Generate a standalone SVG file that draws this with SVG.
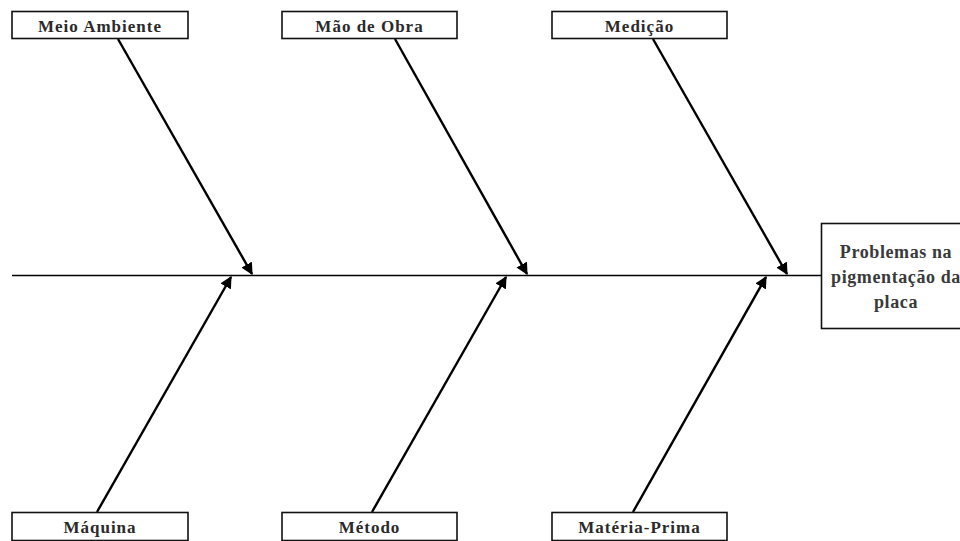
<svg xmlns="http://www.w3.org/2000/svg" width="960" height="541" viewBox="0 0 960 541">
<style>
.box{fill:#fff;stroke:#111;stroke-width:1.6}
.lbl{font-family:"Liberation Serif","Times New Roman",serif;font-weight:bold;font-size:17px;letter-spacing:1px;fill:#2a2a2a;text-anchor:middle}
.eff{font-family:"Liberation Serif","Times New Roman",serif;font-weight:bold;font-size:18px;letter-spacing:0.6px;fill:#3a3a3a;text-anchor:middle}
.bone{stroke:#000;stroke-width:2.4;fill:none;marker-end:url(#ah)}
.spine{stroke:#000;stroke-width:1.6;fill:none}
</style>
<defs>
<marker id="ah" viewBox="0 0 10 10" refX="9" refY="5" markerWidth="5" markerHeight="5" orient="auto" markerUnits="strokeWidth">
<path d="M0,0 L10,5 L0,10 z" fill="#000"/>
</marker>
</defs>
<rect width="960" height="541" fill="#fff"/>
<g id="connectors">
<line class="spine" x1="12" y1="275.5" x2="822" y2="275.5"/>
<line class="bone" x1="118" y1="39" x2="252" y2="274"/>
<line class="bone" x1="395" y1="39" x2="527" y2="274"/>
<line class="bone" x1="653" y1="39" x2="787" y2="274"/>
<line class="bone" x1="97" y1="512" x2="231" y2="277"/>
<line class="bone" x1="372" y1="512" x2="506" y2="277"/>
<line class="bone" x1="633" y1="512" x2="766" y2="277"/>
</g>
<g id="meio-ambiente"><rect class="box" x="12" y="11.5" width="176" height="27"/><text class="lbl" x="100" y="31.5">Meio Ambiente</text></g>
<g id="mao-de-obra"><rect class="box" x="282" y="11.5" width="175" height="27"/><text class="lbl" x="369.5" y="31.5">Mão de Obra</text></g>
<g id="medicao"><rect class="box" x="552" y="11.5" width="175" height="27"/><text class="lbl" x="639.5" y="31.5">Medição</text></g>
<g id="maquina"><rect class="box" x="12" y="512.5" width="176" height="28"/><text class="lbl" x="100" y="533">Máquina</text></g>
<g id="metodo"><rect class="box" x="282" y="512.5" width="175" height="28"/><text class="lbl" x="369.5" y="533">Método</text></g>
<g id="materia-prima"><rect class="box" x="552" y="512.5" width="175" height="28"/><text class="lbl" x="639.5" y="533">Matéria-Prima</text></g>
<g id="efeito"><rect class="box" x="821.5" y="223.5" width="150" height="105"/>
<text class="eff" x="896" y="258">Problemas na</text>
<text class="eff" x="896" y="283">pigmentação da</text>
<text class="eff" x="896" y="308">placa</text></g>
</svg>
